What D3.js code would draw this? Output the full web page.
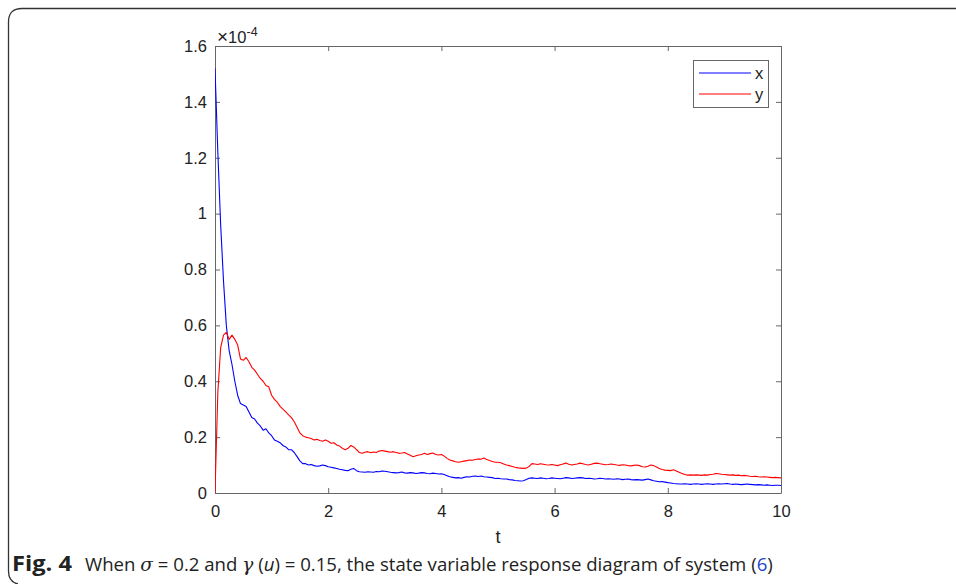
<!DOCTYPE html>
<html><head><meta charset="utf-8">
<script src="https://cdn.jsdelivr.net/npm/d3@7/dist/d3.min.js"></script>
<style>html,body{margin:0;padding:0;background:#fff;}svg{display:block;}</style>
</head><body>
<svg id="c" width="956" height="584"></svg>
<script>
const tStart = 0, tStep = 0.05;
const xSeries = [
 1.52,1.22,0.96,0.76,0.60,0.51,0.46,0.40,0.35,0.32,
 0.315,0.31,0.29,0.27,0.265,0.25,0.24,0.225,0.23,0.215,
 0.205,0.19,0.185,0.18,0.17,0.165,0.155,0.155,0.145,0.13,
 0.115,0.105,0.105,0.10,0.102,0.098,0.096,0.097,0.100,0.098,
 0.094,0.092,0.090,0.088,0.085,0.083,0.081,0.080,0.085,0.088,
 0.080,0.076,0.075,0.074,0.076,0.075,0.074,0.077,0.076,0.079,
 0.078,0.076,0.074,0.073,0.072,0.073,0.075,0.072,0.071,0.073,
 0.072,0.070,0.071,0.073,0.072,0.070,0.069,0.071,0.070,0.068,
 0.069,0.066,0.062,0.058,0.056,0.054,0.055,0.053,0.056,0.058,
 0.057,0.060,0.061,0.059,0.061,0.058,0.057,0.056,0.055,0.052,
 0.053,0.051,0.050,0.050,0.048,0.047,0.045,0.044,0.043,0.044,
 0.048,0.053,0.054,0.053,0.052,0.054,0.053,0.051,0.052,0.054,
 0.053,0.052,0.051,0.053,0.055,0.054,0.052,0.053,0.054,0.055,
 0.054,0.052,0.053,0.052,0.050,0.051,0.053,0.052,0.050,0.051,
 0.050,0.049,0.051,0.050,0.048,0.049,0.050,0.048,0.047,0.048,
 0.047,0.046,0.048,0.050,0.047,0.044,0.042,0.040,0.041,0.039,
 0.037,0.036,0.034,0.033,0.032,0.032,0.033,0.032,0.031,0.032,
 0.033,0.032,0.031,0.032,0.033,0.032,0.031,0.032,0.033,0.032,
 0.033,0.034,0.032,0.031,0.032,0.031,0.030,0.031,0.032,0.031,
 0.030,0.029,0.030,0.029,0.028,0.029,0.028,0.027,0.028,0.028,
 0.027
];
const ySeries = [
 0.0,0.36,0.52,0.565,0.575,0.55,0.565,0.55,0.53,0.48,
 0.475,0.485,0.47,0.45,0.44,0.425,0.41,0.40,0.385,0.38,
 0.35,0.335,0.325,0.31,0.30,0.29,0.28,0.27,0.255,0.235,
 0.215,0.205,0.20,0.198,0.195,0.19,0.192,0.188,0.185,0.19,
 0.185,0.178,0.18,0.172,0.168,0.16,0.155,0.16,0.17,0.165,
 0.155,0.145,0.142,0.146,0.148,0.144,0.147,0.145,0.150,0.152,
 0.150,0.148,0.146,0.148,0.145,0.142,0.143,0.145,0.140,0.135,
 0.130,0.133,0.136,0.138,0.142,0.138,0.141,0.143,0.138,0.136,
 0.138,0.132,0.124,0.118,0.115,0.112,0.110,0.112,0.114,0.116,
 0.118,0.117,0.120,0.122,0.121,0.125,0.120,0.116,0.113,0.110,
 0.110,0.108,0.104,0.100,0.098,0.095,0.092,0.090,0.089,0.088,
 0.089,0.095,0.105,0.104,0.102,0.105,0.103,0.101,0.100,0.102,
 0.100,0.098,0.101,0.104,0.107,0.103,0.100,0.102,0.104,0.107,
 0.105,0.102,0.100,0.103,0.106,0.107,0.105,0.103,0.101,0.102,
 0.104,0.102,0.100,0.099,0.101,0.100,0.098,0.097,0.099,0.100,
 0.098,0.094,0.093,0.096,0.100,0.098,0.093,0.088,0.084,0.082,
 0.081,0.080,0.083,0.079,0.074,0.070,0.066,0.064,0.065,0.064,
 0.065,0.064,0.063,0.065,0.064,0.066,0.067,0.070,0.069,0.067,
 0.066,0.065,0.064,0.065,0.063,0.064,0.062,0.063,0.062,0.060,
 0.059,0.060,0.058,0.057,0.058,0.057,0.056,0.055,0.056,0.055,
 0.054
];
const xTicks = [0,2,4,6,8,10];
const yTicks = [0,0.2,0.4,0.6,0.8,1,1.2,1.4,1.6];
const seriesNames = ["x","y"];
const seriesColors = ["#0000ff","#ff0000"];

const svg = d3.select("#c");
const L=215, R=781, T=46, B=493;
const xs = d3.scaleLinear().domain([0,10]).range([L,R]);
const ys = d3.scaleLinear().domain([0,1.6]).range([B,T]);

svg.append("path")
  .attr("d","M956,8.5 L22,8.5 Q8.5,8.5 8.5,22 L8.5,571 Q8.5,582 18,584")
  .attr("fill","none").attr("stroke","#333").attr("stroke-width",1.3);

const axCol="#666";
const fontAx = "'Liberation Sans', Arial, sans-serif";

const gB = svg.append("g").attr("transform",`translate(0,${B})`)
  .call(d3.axisBottom(xs).tickValues(xTicks).tickSizeInner(-5).tickSizeOuter(0).tickPadding(12).tickFormat(d3.format("d")));
const gT = svg.append("g").attr("transform",`translate(0,${T})`)
  .call(d3.axisTop(xs).tickValues(xTicks).tickSizeInner(-5).tickSizeOuter(0).tickFormat(""));
const gL = svg.append("g").attr("transform",`translate(${L},0)`)
  .call(d3.axisLeft(ys).tickValues(yTicks).tickSizeInner(-5).tickSizeOuter(0).tickPadding(8).tickFormat(d=>d===0?"0":d3.format("~g")(d)));
const gR = svg.append("g").attr("transform",`translate(${R},0)`)
  .call(d3.axisRight(ys).tickValues(yTicks).tickSizeInner(-5).tickSizeOuter(0).tickFormat(""));
[gB,gT,gL,gR].forEach(g=>{
  g.attr("font-size",null).attr("font-family",null);
  g.selectAll("path.domain").attr("stroke",axCol).attr("stroke-width",1);
  g.selectAll(".tick line").attr("stroke",axCol);
  g.selectAll("text").attr("fill","#222").attr("font-family",fontAx).attr("font-size",16.5);
});
gB.selectAll("text").attr("dy","0.71em");

const line = d3.line().x((d,i)=>xs(tStart+i*tStep)).y(d=>ys(d));
svg.append("clipPath").attr("id","pc").append("rect").attr("x",L).attr("y",T).attr("width",R-L).attr("height",B-T);
[xSeries,ySeries].forEach((s,k)=>{
  svg.append("path").datum(s).attr("d",line).attr("fill","none")
    .attr("stroke",seriesColors[k]).attr("stroke-width",1.1).attr("stroke-linejoin","round")
    .attr("clip-path","url(#pc)");
});

const ex = svg.append("text").attr("x",217).attr("y",43).attr("font-family",fontAx).attr("fill","#222");
ex.append("tspan").text("×").attr("font-size",19);
ex.append("tspan").text("10").attr("font-size",16.5);
ex.append("tspan").text("-4").attr("dy",-7).attr("font-size",12.5);

svg.append("text").attr("x",(L+R)/2).attr("y",543).attr("text-anchor","middle")
  .attr("font-family",fontAx).attr("font-size",18).attr("fill","#222").text("t");

svg.append("rect").attr("x",693.5).attr("y",60.5).attr("width",75).attr("height",47)
  .attr("fill","#fff").attr("stroke",axCol);
seriesNames.forEach((n,k)=>{
  const yy = 73 + k*21;
  svg.append("line").attr("x1",699).attr("x2",751).attr("y1",yy).attr("y2",yy)
    .attr("stroke",seriesColors[k]).attr("stroke-width",1.1);
  svg.append("text").attr("x",755).attr("y",yy+5.5).attr("font-family",fontAx).attr("font-size",16.5)
    .attr("fill","#222").text(n);
});

const capFont = "'Open Sans', 'Noto Sans', sans-serif";
function fitX(sel, x0, w){
  const n = sel.node(); const cw = n.getComputedTextLength();
  sel.attr("x",0).attr("transform",`translate(${x0},0) scale(${w/cw},1)`);
}
const fig = svg.append("text").attr("y",571).attr("font-family",capFont)
  .attr("font-size",21).attr("font-weight","bold").attr("fill","#222").text("Fig. 4");
fitX(fig, 12, 60);
const cap = svg.append("text").attr("y",571).attr("font-family",capFont)
  .attr("font-size",19).attr("fill","#222");
cap.append("tspan").text("When ");
cap.append("tspan").text("σ").attr("font-family","'DejaVu Serif', serif").attr("font-style","italic");
cap.append("tspan").text(" = 0.2 and ");
cap.append("tspan").text("γ").attr("font-family","'DejaVu Serif', serif").attr("font-style","italic");
cap.append("tspan").text(" (");
cap.append("tspan").text("u").attr("font-style","italic");
cap.append("tspan").text(") = 0.15, the state variable response diagram of system (");
cap.append("tspan").text("6").attr("fill","#2244cc");
cap.append("tspan").text(")");
fitX(cap, 85, 688);
</script>
</body></html>
